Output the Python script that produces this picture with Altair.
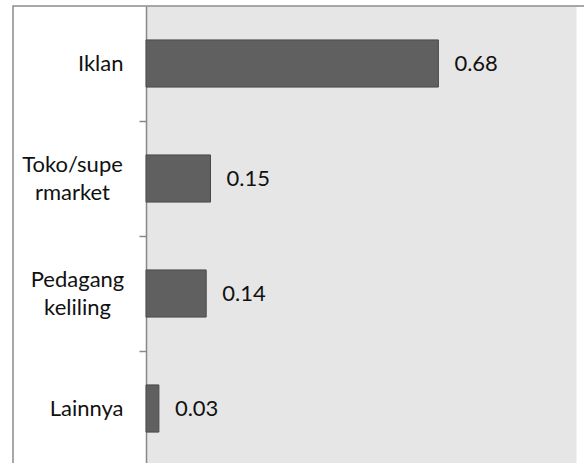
import altair as alt
import pandas as pd

categories = ["Iklan", "Toko/supe\nrmarket", "Pedagang\nkeliling", "Lainnya"]
values = [0.68, 0.15, 0.14, 0.03]
value_labels = ["0.68", "0.15", "0.14", "0.03"]

df = pd.DataFrame({"cat": categories, "val": values, "lab": value_labels})

FONT = "Lato"
MULTI = "indexof(datum.value, '\\n') >= 0"

y_enc = alt.Y(
    "cat:N",
    sort=categories,
    title=None,
    scale=alt.Scale(paddingInner=0.59, paddingOuter=0.295),
    axis=alt.Axis(
        labelExpr="split(datum.label, '\\n')",
        labelFont=FONT,
        labelFontSize=22,
        labelColor="#111111",
        labelLineHeight=28,
        labelAlign={"condition": {"test": MULTI, "value": "center"}, "value": "right"},
        labelPadding={
            "condition": [
                {"test": "indexof(datum.value, 'Toko') == 0", "value": 67},
                {"test": "indexof(datum.value, 'Pedagang') == 0", "value": 62},
            ],
            "value": 16,
        },
        labelOffset={"condition": {"test": MULTI, "value": -71.5}, "value": -57.5},
        labelBaseline="middle",
        tickSize=7,
        tickColor="#888888",
        tickWidth=1.5,
        tickBand="center",
        tickOffset=57.5,
        domainColor="#888888",
        domainWidth=1.5,
    ),
)
x_enc = alt.X("val:Q", scale=alt.Scale(domain=[0, 1]), axis=None)

frame = alt.Chart(pd.DataFrame({"a": [0]})).mark_rect(
    fill="transparent", stroke="#8c8c8c", strokeWidth=1.5
).encode(
    x=alt.value(-133), x2=alt.value(445), y=alt.value(0), y2=alt.value(480)
)

bars = alt.Chart(df).mark_bar(
    color="#606060", stroke="#4a4a4a", strokeWidth=1
).encode(y=y_enc, x=x_enc)

text = alt.Chart(df).mark_text(
    align="left", baseline="middle", dx=16, font=FONT, fontSize=22, color="#111111"
).encode(y=alt.Y("cat:N", sort=categories), x="val:Q", text="lab:N")

chart = alt.layer(frame, bars, text).properties(
    width=430,
    height=460,
    autosize=alt.AutoSizeParams(type="none"),
    padding={"left": 146, "top": 6, "right": 8, "bottom": 0},
    background="white",
).configure_view(fill="#e6e6e6", stroke="transparent")

chart.save("out.html", embed_options={"renderer": "svg", "actions": False})
